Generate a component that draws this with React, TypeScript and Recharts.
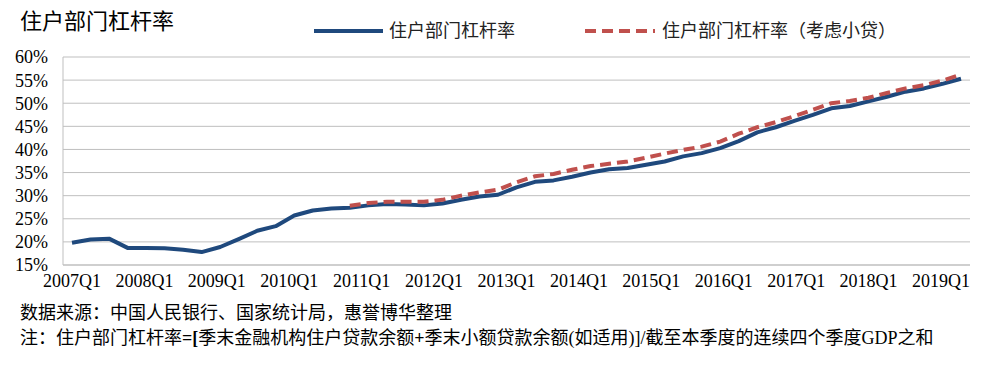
import { CartesianGrid, Line, LineChart, XAxis, YAxis } from 'recharts';

const quarters = [
  '2007Q1', '2007Q2', '2007Q3', '2007Q4',
  '2008Q1', '2008Q2', '2008Q3', '2008Q4',
  '2009Q1', '2009Q2', '2009Q3', '2009Q4',
  '2010Q1', '2010Q2', '2010Q3', '2010Q4',
  '2011Q1', '2011Q2', '2011Q3', '2011Q4',
  '2012Q1', '2012Q2', '2012Q3', '2012Q4',
  '2013Q1', '2013Q2', '2013Q3', '2013Q4',
  '2014Q1', '2014Q2', '2014Q3', '2014Q4',
  '2015Q1', '2015Q2', '2015Q3', '2015Q4',
  '2016Q1', '2016Q2', '2016Q3', '2016Q4',
  '2017Q1', '2017Q2', '2017Q3', '2017Q4',
  '2018Q1', '2018Q2', '2018Q3', '2018Q4',
  '2019Q1',
];

// 住户部门杠杆率 (%)
const leverage = [
  19.8, 20.5, 20.7, 18.7, 18.7, 18.6, 18.3, 17.8, 18.9, 20.6, 22.4, 23.4, 25.7,
  26.8, 27.2, 27.4, 27.9, 28.2, 28.1, 27.9, 28.3, 29.1, 29.8, 30.2, 31.8, 33.0,
  33.3, 34.1, 35.0, 35.7, 36.0, 36.7, 37.4, 38.5, 39.2, 40.3, 41.8, 43.7, 44.8,
  46.2, 47.5, 48.9, 49.4, 50.4, 51.4, 52.5, 53.2, 54.2, 55.3,
];

// 住户部门杠杆率（考虑小贷）(%), starts 2010Q4
const leverageWithMicro = [
  null, null, null, null, null, null, null, null, null, null, null, null, null,
  null, null, 27.8, 28.4, 28.7, 28.7, 28.7, 29.1, 30.0, 30.7, 31.3, 32.9, 34.2,
  34.7, 35.6, 36.4, 36.9, 37.4, 38.2, 39.1, 39.9, 40.6, 41.7, 43.4, 44.8, 45.9,
  47.2, 48.6, 50.0, 50.5, 51.2, 52.2, 53.2, 53.9, 54.9, 56.2,
];

const yTicks = [15, 20, 25, 30, 35, 40, 45, 50, 55, 60];

const BLUE = '#1f497d';
const RED = '#c0504d';
const GRID = '#bfbfbf';
const SERIF = "'Liberation Serif', 'Times New Roman', serif";
const MIXED = "'Liberation Serif', 'Noto Sans CJK SC', serif";

const data = quarters.map((q, i) => ({
  quarter: q,
  a: leverage[i],
  b: leverageWithMicro[i],
}));

const noteStyle = {
  position: 'absolute' as const,
  left: 20,
  fontSize: 18,
  fontFamily: MIXED,
  color: '#000',
  lineHeight: '24px',
  whiteSpace: 'nowrap' as const,
};

// the source's category labels sit a little tighter than the points
function QuarterTick({ x, y, payload }: any) {
  const idx = quarters.indexOf(payload.value);
  const shift = -20 * (idx / (quarters.length - 1));
  return (
    <text
      x={x + shift}
      y={y}
      dy="0.71em"
      textAnchor="middle"
      fill="#000"
      fontSize={18}
      fontFamily={SERIF}
    >
      {payload.value}
    </text>
  );
}

export default function App() {
  return (
    <div style={{ position: 'absolute', left: 0, top: 0, width: 997, height: 365, background: '#fff' }}>
      <LineChart
        width={997}
        height={365}
        data={data}
        margin={{ top: 57, right: 27, bottom: 70, left: 0 }}
      >
        <CartesianGrid vertical={false} stroke={GRID} strokeWidth={1} />
        <XAxis
          dataKey="quarter"
          interval={3}
          height={30}
          padding={{ left: 9, right: 9 }}
          stroke={GRID}
          tickLine={false}
          tickSize={0}
          tickMargin={9}
          tick={<QuarterTick />}
        />
        <YAxis
          width={63}
          domain={[15, 60]}
          ticks={yTicks}
          interval={0}
          tickFormatter={(v) => `${v}%`}
          stroke={GRID}
          tickLine={false}
          tickSize={0}
          tickMargin={15}
          tick={{ fill: '#000', fontSize: 18, fontFamily: SERIF }}
        />
        <Line
          type="linear"
          dataKey="a"
          stroke={BLUE}
          strokeWidth={4}
          dot={false}
          strokeLinejoin="round"
          isAnimationActive={false}
        />
        <Line
          type="linear"
          dataKey="b"
          stroke={RED}
          strokeWidth={4}
          strokeDasharray="11 6"
          dot={false}
          connectNulls={false}
          isAnimationActive={false}
        />
      </LineChart>

      <div style={{ position: 'absolute', left: 20, top: 9, fontSize: 22, fontFamily: MIXED, color: '#000', lineHeight: '26px' }}>
        住户部门杠杆率
      </div>

      <svg style={{ position: 'absolute', left: 0, top: 0 }} width={997} height={50}>
        <line x1={314} y1={31} x2={383} y2={31} stroke={BLUE} strokeWidth={4} />
        <line x1={585} y1={31} x2={655} y2={31} stroke={RED} strokeWidth={4} strokeDasharray="11 6" />
      </svg>
      <div style={{ position: 'absolute', left: 389, top: 19, fontSize: 18, fontFamily: MIXED, color: '#222', lineHeight: '24px' }}>
        住户部门杠杆率
      </div>
      <div style={{ position: 'absolute', left: 662, top: 19, fontSize: 18, fontFamily: MIXED, color: '#222', lineHeight: '24px', whiteSpace: 'nowrap' }}>
        住户部门杠杆率（考虑小贷）
      </div>

      <div style={{ ...noteStyle, top: 301 }}>
        数据来源：中国人民银行、国家统计局，惠誉博华整理
      </div>
      <div style={{ ...noteStyle, top: 326 }}>
        注：住户部门杠杆率<b>=[</b>季末金融机构住户贷款余额<b>+</b>季末小额贷款余额(如适用)]/截至本季度的连续四个季度GDP之和
      </div>
    </div>
  );
}
